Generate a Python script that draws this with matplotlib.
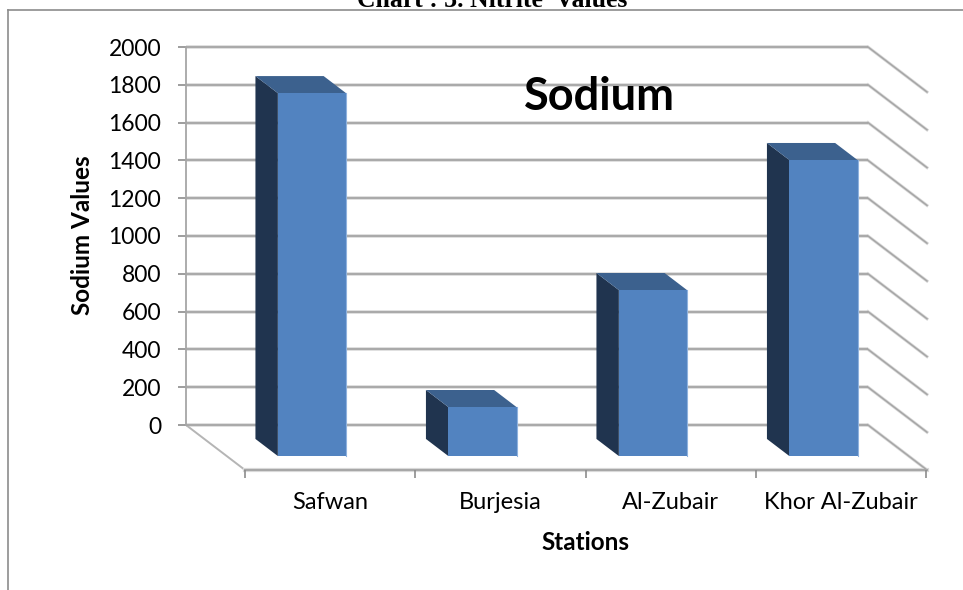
import matplotlib
matplotlib.use("Agg")
import matplotlib.pyplot as plt
from matplotlib.patches import Polygon

stations = ["Safwan", "Burjesia", "Al-Zubair", "Khor Al-Zubair"]
sodium = [1920, 259, 878, 1566]
y_ticks = [0, 200, 400, 600, 800, 1000, 1200, 1400, 1600, 1800, 2000]

W, H = 963, 590
plt.rcParams['font.family'] = ['Lato', 'DejaVu Sans']
fig = plt.figure(figsize=(W / 100, H / 100), dpi=100)

def rect(x0, x1, ytop, ybot):
    return [x0 / W, 1 - ybot / H, (x1 - x0) / W, (ybot - ytop) / H]

# frame of the page picture
FRAME = '#8c8c8c'
fig.add_artist(plt.Line2D([8 / W, 8 / W], [0, 1 - 10 / H], color=FRAME, lw=1.2))
fig.add_artist(plt.Line2D([8 / W, 1], [1 - 10 / H, 1 - 10 / H], color=FRAME, lw=1.2))
fig.text(492.5 / W, 1 - 7 / H, "Chart : 3. Nitrite  Values", family='Liberation Serif',
         weight='bold', size=18.5, ha='center', va='baseline', color='black')

# back wall axes
ax = fig.add_axes(rect(186, 868, 47, 425))
ax.set_xlim(0, 4)
ax.set_ylim(0, 2000)
ax.patch.set_alpha(0)
for s in ('top', 'right', 'bottom'):
    ax.spines[s].set_visible(False)
GRID = '#a6a6a6'
SOFT = '#d9d9d9'
ax.spines['left'].set_color(GRID)
ax.spines['left'].set_linewidth(1.3)
ax.set_xticks([])
ax.set_yticks(y_ticks)
ax.tick_params(axis='y', length=6, width=1.2, color='#8c8c8c', labelsize=16.5, pad=12)
ax.set_ylabel("Sodium Values", weight='bold', size=17.5, va='center')
ax.yaxis.set_label_coords((82 - 186) / 682, (425 - 235) / 378)

# depth of the 3-D box expressed in data units of the wall axes
DX = 59 / (682 / 4)
DY = -45 / (378 / 2000)
D0, D1 = 0.31, 0.69
BAR_W = 0.40

def pr(c, v, d):
    return (c + d * DX, v + d * DY)

# gridlines on wall and side wall
for v in y_ticks:
    ax.plot([0, 4], [v, v], color=SOFT, lw=2.6, zorder=1, clip_on=False, solid_capstyle='butt')
    ax.plot([0, 4], [v, v], color=GRID, lw=1.3, zorder=1.1, clip_on=False, solid_capstyle='butt')
    ax.plot(*zip(pr(4, v, 0), pr(4, v, 1)), color=SOFT, lw=2.2, zorder=1, clip_on=False)
    ax.plot(*zip(pr(4, v, 0), pr(4, v, 1)), color=GRID, lw=1.1, zorder=1.1, clip_on=False)

# floor edges
ax.plot(*zip(pr(0, 0, 0), pr(0, 0, 1)), color='#b5b5b5', lw=1.4, zorder=1, clip_on=False)
ax.plot(*zip(pr(0, 0, 1), pr(4, 0, 1)), color=SOFT, lw=3, zorder=1, clip_on=False)
ax.plot(*zip(pr(0, 0, 1), pr(4, 0, 1)), color=GRID, lw=1.4, zorder=1.1, clip_on=False)

# bars
FRONT, SIDE, TOP, EDGE = '#5283c0', '#20344f', '#3c618e', '#8fb2de'
for i, val in enumerate(sodium):
    x0, x1 = i + 0.5 - BAR_W / 2, i + 0.5 + BAR_W / 2
    side = [pr(x0, 0, D0), pr(x0, val, D0), pr(x0, val, D1), pr(x0, 0, D1)]
    top = [pr(x0, val, D0), pr(x1, val, D0), pr(x1, val, D1), pr(x0, val, D1)]
    front = [pr(x0, 0, D1), pr(x0, val, D1), pr(x1, val, D1), pr(x1, 0, D1)]
    ax.add_patch(Polygon(side, fc=SIDE, ec='none', zorder=3, clip_on=False))
    ax.add_patch(Polygon(top, fc=TOP, ec='none', zorder=3, clip_on=False))
    ax.add_patch(Polygon(front, fc=FRONT, ec='none', zorder=4, clip_on=False))
    ax.plot(*zip(pr(x1, 0, D1), pr(x1, val, D1)), color=EDGE, lw=0.8, zorder=4.1, clip_on=False)

ax.text((599 - 186) / (682 / 4), (425 - 97) / 378 * 2000, "Sodium",
        weight='bold', size=32.5, ha='center', va='center', zorder=6)

# front floor axes: category ticks and labels
fx = fig.add_axes(rect(245, 926, 100, 470))
fx.patch.set_alpha(0)
fx.set_xlim(0, 4)
fx.set_yticks([])
for s in fx.spines.values():
    s.set_visible(False)
fx.set_xticks(range(5))
fx.set_xticklabels([])
fx.set_xticks([i + 0.5 for i in range(4)], stations, minor=True)
fx.tick_params(axis='x', which='major', length=6, width=1.2, color='#8c8c8c')
fx.tick_params(axis='x', which='minor', length=0, labelsize=17, pad=16)
fx.set_xlabel("Stations", weight='bold', size=17.5)
fx.xaxis.set_label_coords(0.5, -(543 - 470) / 370)
fx.xaxis.label.set_va('center')

fig.savefig("out.png", dpi=100)
